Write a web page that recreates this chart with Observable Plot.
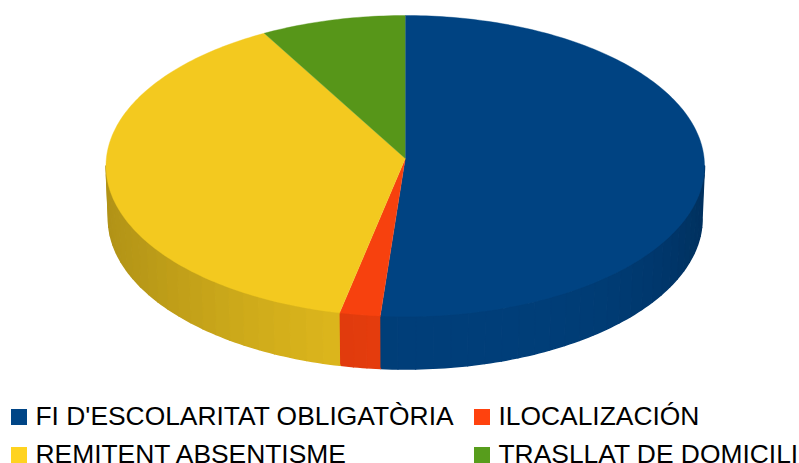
<!DOCTYPE html>
<html><head><meta charset="utf-8">
<script src="https://cdn.jsdelivr.net/npm/d3@7"></script>
<script src="https://cdn.jsdelivr.net/npm/@observablehq/plot@0.6"></script>
<style>
html,body{margin:0;padding:0;background:#fff;overflow:hidden;width:799px;height:463px}
#chart svg{display:block}
#legend{display:grid;grid-template-columns:463px auto;grid-auto-rows:38px;padding-left:11px;
font-family:"Liberation Sans",Arial,sans-serif;font-size:26.4px;color:#000;white-space:nowrap;height:63px;overflow:hidden}
#legend .it{display:flex;align-items:flex-end;height:16px;margin-top:9px;line-height:16px;position:relative}
#legend i{display:block;width:16px;height:16px;flex:none}
#legend span{position:absolute;left:24.5px;bottom:-4px;line-height:26px;letter-spacing:0}
</style></head><body>
<div id="chart"></div><div id="legend"></div>
<script>
const categories = ["FI D'ESCOLARITAT OBLIGATÒRIA", "ILOCALIZACIÓN", "REMITENT ABSENTISME", "TRASLLAT DE DOMICILI"];
const shares = [51.33, 2.19, 38.67, 7.81];
const legendColors = ["#004586", "#ff420e", "#ffd320", "#579d1c"];
const topColors = ["#004382", "#f7410e", "#f3c91f", "#579619"];

const depth = 0.349, apexLift = 0.05, baseShrink = 0.992;
const rad = d => d * Math.PI / 180;
const slices = [];
let acc = 0;
categories.forEach((name, i) => {
  const a0 = acc, a1 = acc + shares[i] * 3.6;
  acc = a1;
  slices.push({name, i, a0, a1});
});

const topPts = [], sidePts = [];
for (const s of slices) {
  topPts.push({x: 0, y: apexLift, k: s.name, c: topColors[s.i]});
  for (let a = s.a0; ; a = Math.min(a + 1, s.a1)) {
    topPts.push({x: Math.sin(rad(a)), y: Math.cos(rad(a)), k: s.name, c: topColors[s.i]});
    if (a >= s.a1) break;
  }
  // visible wall: the front half of the disc, in facets
  const from = Math.max(s.a0, 90), to = Math.min(s.a1, 270);
  if (from < to) {
    const n = Math.ceil((to - from) / 3.5);
    for (let j = 0; j < n; j++) {
      const b0 = from + (to - from) * j / n, b1 = from + (to - from) * (j + 1) / n;
      const mid = Math.sin(rad((b0 + b1) / 2));
      const f = 0.93 - 0.2 * Math.pow(Math.abs(mid), mid < 0 ? 1.4 : 4);
      const col = d3.rgb(topColors[s.i]);
      const c = d3.rgb(col.r * f, col.g * f, col.b * f).formatHex();
      const k = s.name + j;
      const seq = [];
      for (let a = b0; a <= b1 + 1e-6; a += (b1 - b0) / 3) seq.push({x: Math.sin(rad(a)), y: Math.cos(rad(a)), k, c});
      for (let a = b1; a >= b0 - 1e-6; a -= (b1 - b0) / 3) seq.push({x: Math.sin(rad(a)) * baseShrink, y: Math.cos(rad(a)) - depth, k, c});
      sidePts.push(...seq);
    }
  }
}

const chart = Plot.plot({
  width: 799, height: 400,
  marginLeft: 0, marginRight: 0, marginTop: 0, marginBottom: 0,
  x: {domain: [-1, 1], range: [105.5, 704], axis: null},
  y: {domain: [1, -1], range: [15, 316], axis: null},
  color: {type: "identity"},
  style: {background: "#fff", overflow: "visible"},
  marks: [
    // facets overlap a little so no seams show between them
    Plot.line(sidePts, {x: "x", y: "y", z: "k", fill: "c", stroke: "c", strokeWidth: 1.5, curve: "linear"}),
    Plot.line(topPts, {x: "x", y: "y", z: "k", fill: "c", stroke: "c", strokeWidth: 0.4, curve: "linear"})
  ]
});
document.getElementById("chart").append(chart);

const legend = document.getElementById("legend");
categories.forEach((name, i) => {
  const it = document.createElement("div");
  it.className = "it";
  const sw = document.createElement("i");
  sw.style.background = legendColors[i];
  const tx = document.createElement("span");
  tx.textContent = name;
  it.append(sw, tx);
  legend.append(it);
});
</script>
</body></html>
